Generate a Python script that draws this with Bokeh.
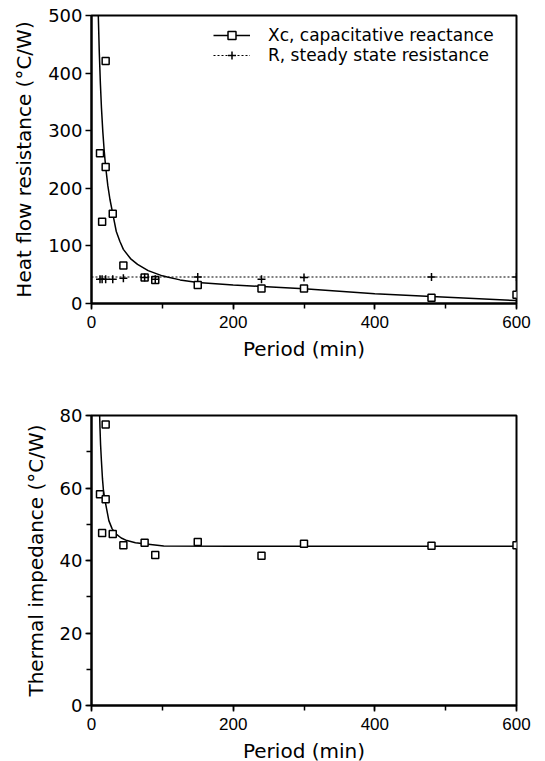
from bokeh.plotting import figure
from bokeh.layouts import column
from bokeh.models import Range1d, Legend, LegendItem, SingleIntervalTicker
from bokeh.embed import file_html
from bokeh.resources import INLINE

# ---------------- data ----------------
x_limits = [0, 600]

# top panel: capacitative reactance Xc (squares) and steady state resistance R (+)
xc_period = [12, 15, 20, 20, 30, 45, 75, 90, 150, 240, 300, 480, 600]
xc_value = [261, 142, 421, 237, 156, 66, 45, 41, 32, 26, 26, 10, 15]

r_period = [12, 15, 20, 30, 45, 75, 90, 150, 240, 300, 480, 600]
r_value = [42, 42, 42, 42, 44, 45, 42, 46, 42, 45, 46, 46]
r_steady = 46

xc_fit_period = [9.6, 11, 12.5, 14, 16, 18, 20, 23, 26, 30, 35, 40, 45, 55, 65,
                 80, 100, 107, 125, 150, 200, 241, 300, 400, 480, 540, 600]
xc_fit_value = [500, 436, 383, 341, 298, 264, 237, 205, 181, 156, 125, 108, 94,
                78, 68, 57, 48, 46, 41, 36.5, 32, 29.5, 25.5, 17, 12, 8.5, 5]

# bottom panel: thermal impedance
z_period = [12, 15, 20, 20, 30, 45, 75, 90, 150, 240, 300, 480, 600]
z_value = [58.3, 47.6, 77.5, 56.9, 47.3, 44.2, 44.9, 41.5, 45.1, 41.3, 44.6, 44.1, 44.2]

z_fit_period = [11.5, 12, 12.8, 14, 15.5, 17, 20, 24.5, 29, 34, 42, 50, 62, 74,
                102, 200, 400, 600]
z_fit_value = [80, 76.5, 72, 67.5, 62.5, 59, 55.6, 51, 48.8, 47.4, 46.2, 45.5,
               44.9, 44.6, 44.0, 43.9, 43.9, 43.9]

# ---------------- styling helpers ----------------
TICK_FONT = "Liberation Sans"
YTICK_FONT = "DejaVu Sans"
LABEL_FONT = "DejaVu Sans"


def style(p, ytick_interval, y_minor):
    p.grid.visible = False
    p.outline_line_color = "black"
    p.outline_line_width = 2
    p.background_fill_color = "white"
    p.border_fill_color = "white"
    for ax in (p.xaxis[0], p.yaxis[0]):
        ax.axis_line_width = 2
        ax.axis_line_color = "black"
        ax.major_tick_line_width = 1.5
        ax.minor_tick_line_width = 1.5
        ax.major_tick_in = 0
        ax.major_tick_out = 6
        ax.minor_tick_in = 0
        ax.minor_tick_out = 5
        ax.axis_label_text_font = LABEL_FONT
        ax.axis_label_text_font_size = "20px"
        ax.axis_label_text_font_style = "normal"
        ax.axis_label_text_color = "black"
        ax.major_label_text_color = "black"
    p.xaxis.ticker = SingleIntervalTicker(interval=200, num_minor_ticks=2)
    p.xaxis.major_label_text_font = TICK_FONT
    p.xaxis.major_label_text_font_size = "17px"
    p.xaxis.major_label_standoff = 6
    p.xaxis.axis_label_standoff = 6
    p.yaxis.ticker = SingleIntervalTicker(interval=ytick_interval,
                                          num_minor_ticks=2 if y_minor else 0)
    if not y_minor:
        p.yaxis.minor_tick_line_color = None
    p.yaxis.major_label_text_font = YTICK_FONT
    p.yaxis.major_label_text_font_size = "18px"
    p.yaxis.major_label_standoff = 3
    p.yaxis.axis_label_standoff = 9


# ---------------- top figure ----------------
p1 = figure(frame_width=425, frame_height=288,
            x_range=Range1d(*x_limits), y_range=Range1d(0, 500),
            min_border_left=91, min_border_right=22,
            min_border_top=15, min_border_bottom=65,
            output_backend="svg", toolbar_location=None,
            x_axis_label="Period (min)",
            y_axis_label="Heat flow resistance (°C/W)")
style(p1, 100, False)

xc_line = p1.line(xc_fit_period, xc_fit_value, line_color="black", line_width=1.5)
xc_sq = p1.scatter(xc_period, xc_value, marker="square", size=7,
                   fill_color="white", line_color="black", line_width=1.5)
r_line = p1.line(x_limits, [r_steady, r_steady], line_color="black",
                 line_width=1.2, line_dash="2 2")
r_pl = p1.scatter(r_period, r_value, marker="cross", size=8,
                  line_color="black", line_width=1.5)

legend = Legend(items=[
    LegendItem(label="Xc, capacitative reactance", renderers=[xc_line, xc_sq]),
    LegendItem(label="R, steady state resistance", renderers=[r_line, r_pl]),
], location=(122, 238))
legend.border_line_color = None
legend.background_fill_alpha = 0
legend.padding = 0
legend.margin = 0
legend.spacing = 0
legend.label_height = 20
legend.glyph_height = 20
legend.glyph_width = 37
legend.label_standoff = 18
legend.label_text_font = LABEL_FONT
legend.label_text_font_size = "17px"
legend.label_text_color = "black"
p1.add_layout(legend)

# ---------------- bottom figure ----------------
p2 = figure(frame_width=425, frame_height=290,
            x_range=Range1d(*x_limits), y_range=Range1d(0, 80),
            min_border_left=91, min_border_right=22,
            min_border_top=47, min_border_bottom=50,
            output_backend="svg", toolbar_location=None,
            x_axis_label="Period (min)",
            y_axis_label="Thermal impedance (°C/W)")
style(p2, 20, True)

p2.line(z_fit_period, z_fit_value, line_color="black", line_width=1.5)
p2.scatter(z_period, z_value, marker="square", size=7,
           fill_color="white", line_color="black", line_width=1.5)

layout = column(p1, p2, spacing=0)
open("out.html", "w").write(file_html(layout, INLINE))
